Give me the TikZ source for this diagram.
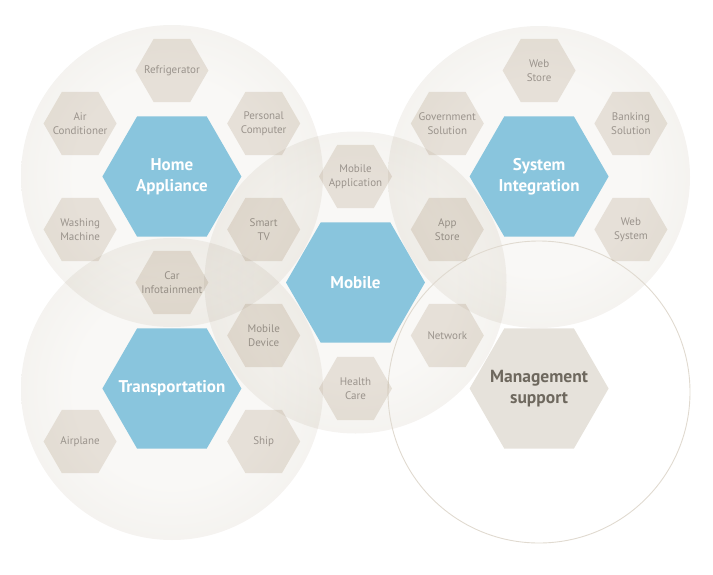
\documentclass[tikz,border=0pt]{standalone}
\usepackage{fontspec}
\setmainfont{PT Sans}
\usetikzlibrary{shapes.geometric}
\definecolor{circc}{RGB}{239,237,232}
\definecolor{glowc}{RGB}{249,248,246}
\definecolor{hexc}{RGB}{236,231,224}
\definecolor{bluec}{RGB}{137,197,221}
\definecolor{smalltxt}{RGB}{172,169,167}
\definecolor{mgmtfill}{RGB}{230,226,219}
\definecolor{mgmttxt}{RGB}{110,104,94}
\definecolor{mgmtline}{RGB}{224,218,208}
\pgfdeclareradialshading{circglow}{\pgfpoint{0bp}{0bp}}{color(0bp)=(glowc); color(16bp)=(glowc); color(36bp)=(circc); color(50bp)=(circc)}
\tikzset{
  zone/.style={shading=circglow},
  hexbase/.style={regular polygon, regular polygon sides=6, inner sep=0pt, outer sep=0pt},
  bighex/.style={hexbase, minimum size=139pt, fill=bluec},
  smallhex/.style={hexbase, minimum size=73pt, fill=hexc},
  mgmthex/.style={hexbase, minimum size=139pt, fill=mgmtfill},
  bigtext/.style={align=center, inner sep=0pt, text=white, font=\fontsize{17}{20.5}\selectfont\bfseries},
  smalltext/.style={align=center, inner sep=0pt, text=smalltxt, font=\fontsize{11}{14}\selectfont},
  mgmttext/.style={align=center, inner sep=0pt, text=mgmttxt, font=\fontsize{17.5}{21}\selectfont\bfseries},
  mgmtring/.style={draw=mgmtline, line width=0.9pt}
}
\begin{document}
\begin{tikzpicture}[x=1pt,y=-1pt]
\useasboundingbox (0,0) rectangle (713,574);
% circles
\begin{scope}[blend mode=multiply]
  \shade[zone] (172,176) circle (151);
  \shade[zone] (539,177) circle (151);
  \shade[zone] (172,389) circle (151);
  \shade[zone] (355.5,282.5) circle (151);
\end{scope}
\coordinate (mgc) at (539,392);
\draw[mgmtring] (mgc) circle (151);
% small hexagons
\begin{scope}[blend mode=multiply]
  \node[smallhex, label={[smalltext]center:Refrigerator}] (fridge) at (171.9,70.5) {};
  \node[smallhex, label={[smalltext]center:{Air\\Conditioner}}] (aircon) at (80.1,123.5) {};
  \node[smallhex, label={[smalltext]center:{Personal\\Computer}}] (pc) at (263.7,123.5) {};
  \node[smallhex, label={[smalltext]center:{Washing\\Machine}}] (wash) at (80.1,229.5) {};
  \node[smallhex, label={[smalltext]center:{Smart\\TV}}] (tv) at (263.7,229.5) {};
  \node[smallhex, label={[smalltext]center:{Car\\Infotainment}}] (car) at (171.9,282.5) {};
  \node[smallhex, label={[smalltext]center:{Mobile\\Device}}] (mdev) at (263.7,335.5) {};
  \node[smallhex, label={[smalltext]center:Airplane}] (plane) at (80.1,441.5) {};
  \node[smallhex, label={[smalltext]center:Ship}] (ship) at (263.7,441.5) {};
  \node[smallhex, label={[smalltext]center:{Mobile\\Application}}] (mapp) at (355.5,176.5) {};
  \node[smallhex, label={[smalltext]center:{App\\Store}}] (appst) at (447.3,229.5) {};
  \node[smallhex, label={[smalltext]center:Network}] (net) at (447.3,335.5) {};
  \node[smallhex, label={[smalltext]center:{Health\\Care}}] (health) at (355.5,388.5) {};
  \node[smallhex, label={[smalltext]center:{Web\\Store}}] (webst) at (539.1,70.5) {};
  \node[smallhex, label={[smalltext]center:{Government\\Solution}}] (gov) at (447.3,123.5) {};
  \node[smallhex, label={[smalltext]center:{Banking\\Solution}}] (bank) at (630.9,123.5) {};
  \node[smallhex, label={[smalltext]center:{Web\\System}}] (websys) at (630.9,229.5) {};
\end{scope}
% big hexagons
\node[bighex, label={[bigtext]center:{Home\\Appliance}}] (home) at (171.9,176.5) {};
\node[bighex, label={[bigtext]center:{System\\Integration}}] (sys) at (539.1,176.5) {};
\node[bighex, label={[bigtext]center:Transportation}] (trans) at (171.9,388.5) {};
\node[bighex, label={[bigtext]center:Mobile}] (mobile) at (355.5,282.5) {};
\node[mgmthex, label={[mgmttext]center:{Management\\support}}] (mgmt) at (539.1,388.5) {};
\end{tikzpicture}
\end{document}
